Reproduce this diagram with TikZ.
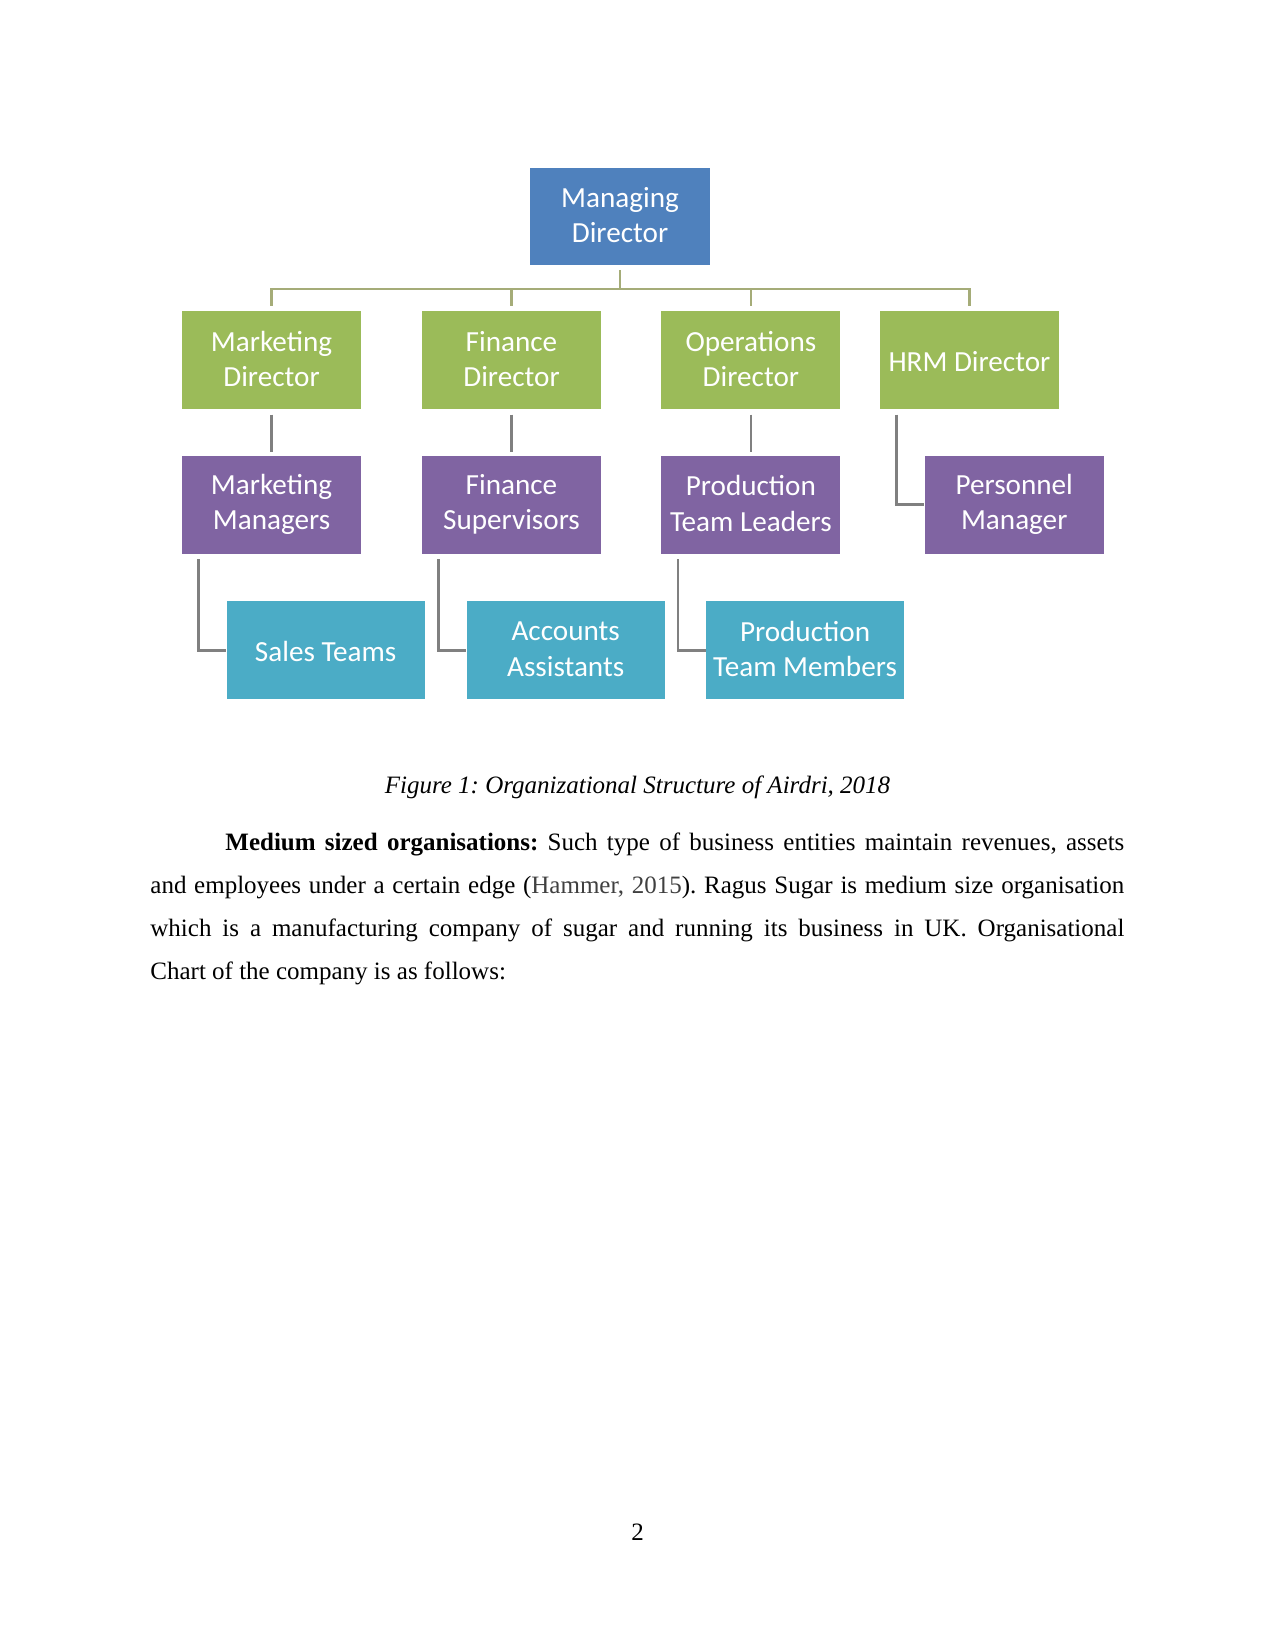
\documentclass[tikz,border=0pt]{standalone}
\usepackage{fontspec}
\setmainfont{Liberation Serif}
\newfontfamily\chartfont{Carlito}
\usetikzlibrary{positioning}
\definecolor{mdblue}   {RGB}{79,129,189}
\definecolor{dirgreen} {RGB}{155,187,89}
\definecolor{mgrpurple}{RGB}{128,100,162}
\definecolor{teamaqua} {RGB}{75,172,198}
\definecolor{linkolive}{RGB}{165,172,120}
\definecolor{linkgray} {RGB}{128,128,128}
\definecolor{citegray} {RGB}{64,64,64}
\newcommand\orgstrut{\vrule width 0pt height 11.9pt depth 1.2pt}

\begin{document}
\begin{tikzpicture}[
  x=0.48pt, y=-0.48pt,
  every node/.style={align=center},
  orgbox/.style={rectangle, text=white, inner sep=1pt,
    font=\chartfont\fontsize{14}{17}\selectfont,
    execute at begin node=\orgstrut,
    execute at end node=\orgstrut,
    minimum width=86pt, minimum height=47pt},
  mdbox/.style={orgbox, fill=mdblue},
  dirbox/.style={orgbox, fill=dirgreen},
  mgrbox/.style={orgbox, fill=mgrpurple},
  teambox/.style={orgbox, fill=teamaqua, minimum width=95pt},
  toplink/.style={draw=linkolive, line width=1.3pt},
  sublink/.style={draw=linkgray, line width=1.3pt},
  bodytext/.style={font=\fontsize{12}{20.7}\selectfont\frenchspacing, inner sep=0pt},
]
\useasboundingbox (0,0) rectangle (1275,1650);
\fill[white] (0,0) rectangle (1275,1650);

% Top
\node[mdbox] (md) at (620,216.5) {Managing\\Director};

% Directors
\node[dirbox] (mkd) at (271.5,360) {Marketing\\Director};
\node[dirbox, right=28.8pt of mkd] (find) {Finance\\Director};
\node[dirbox, right=28.5pt of find] (opd) {Operations\\Director};
\node[dirbox, right=18.5pt of opd] (hrd) {HRM Director};

% Managers
\node[mgrbox, below=22pt of mkd] (mkm) {Marketing\\Managers};
\node[mgrbox, below=22pt of find] (fins) {Finance\\Supervisors};
\node[mgrbox, below=22pt of opd] (ptl) {Production\\Team Leaders};
\node[mgrbox, right=40pt of ptl] (pm) {Personnel\\Manager};

% Teams
\node[teambox, below=22.5pt of mkm, xshift=26pt] (sales) {Sales Teams};
\node[teambox, below=22.5pt of fins, xshift=26pt] (acc) {Accounts\\Assistants};
\node[teambox, below=22.5pt of ptl, xshift=26pt] (ptm) {Production\\Team Members};

% Links
\coordinate (bus) at (620,289);
\draw[toplink, shorten <=2pt] (md) -- (bus);
\foreach \d in {mkd,find,opd,hrd}
  \draw[toplink, shorten >=2pt] (bus) -| (\d);
\draw[sublink, shorten <=2.5pt, shorten >=1.5pt] (mkd) -- (mkm);
\draw[sublink, shorten <=2.5pt, shorten >=1.5pt] (find) -- (fins);
\draw[sublink, shorten <=2.5pt, shorten >=1.5pt] (opd) -- (ptl);
\draw[sublink, shorten <=2.5pt] ([shift={(17,0)}]hrd.south west) |- (pm);
\draw[sublink, shorten <=2.5pt] ([shift={(17,0)}]mkm.south west) |- (sales);
\draw[sublink, shorten <=2.5pt] ([shift={(17,0)}]fins.south west) |- (acc);
\draw[sublink, shorten <=2.5pt] ([shift={(17,0)}]ptl.south west) |- (ptm);

% Caption and text
\node[bodytext, font=\itshape\fontsize{12}{14}\selectfont\frenchspacing, anchor=base] (caption)
  at (637.5,793) {Figure 1: Organizational Structure of Airdri, 2018};
\node[bodytext, anchor=base west, text width=467.5pt, align=justify] (para) at (150,850)
  {\hspace*{36pt}\textbf{Medium sized organisations:} Such type of business entities maintain revenues, assets\linebreak
   and employees under a certain edge ({\color{citegray}Hammer, 2015}). Ragus Sugar is medium size organisation\linebreak
   which is a manufacturing company of sugar and running its business in UK. Organisational\linebreak
   Chart of the company is as follows:};
\node[bodytext, anchor=base] (pageno) at (637.5,1540) {2};
\end{tikzpicture}
\end{document}
